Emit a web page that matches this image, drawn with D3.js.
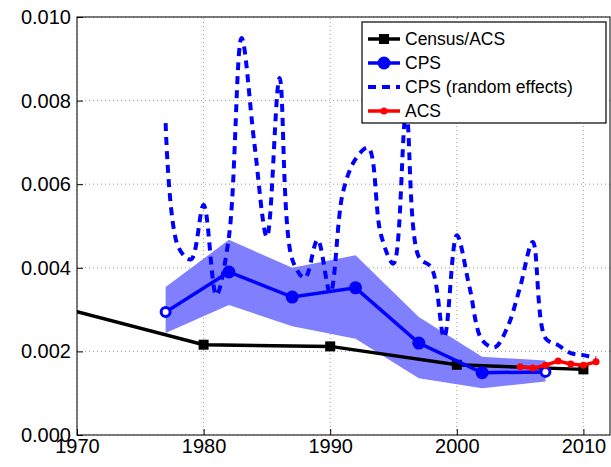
<!DOCTYPE html>
<html><head><meta charset="utf-8">
<script src="https://cdn.jsdelivr.net/npm/d3@7"></script>
<style>body{margin:0;background:#fff}svg{font-family:"Liberation Sans",Arial,sans-serif}</style>
</head><body><svg id="c" width="611" height="467"></svg>
<script>
const censusYears = [1960, 1970, 1980, 1990, 2000, 2010];
const censusVals = [0.00368, 0.00295, 0.00216, 0.00212, 0.00168, 0.00157];
const cpsYears = [1977, 1982, 1987, 1992, 1997, 2002, 2007];
const cpsVals = [0.00294, 0.0039, 0.0033, 0.00352, 0.0022, 0.00149, 0.00151];
const cpsLow = [0.00244, 0.00311, 0.0026, 0.0023, 0.00136, 0.00112, 0.00128];
const cpsHigh = [0.00354, 0.00467, 0.0040, 0.0043, 0.00282, 0.00187, 0.00178];
const reYears = d3.range(1977, 2012);
const reVals = [0.00746, 0.0045, 0.0042, 0.0055, 0.00335, 0.00474, 0.0095, 0.0070, 0.00474, 0.00854,
  0.0042, 0.00376, 0.00467, 0.0034, 0.0058, 0.0066, 0.00687, 0.0048, 0.0041, 0.0077,
  0.00426, 0.0040, 0.00234, 0.00478, 0.00354, 0.00227, 0.0021, 0.00258, 0.00354, 0.00462,
  0.00232, 0.00215, 0.00196, 0.00191, 0.00184];
const acsYears = [2005, 2006, 2007, 2008, 2009, 2010, 2011];
const acsVals = [0.00163, 0.0016, 0.00167, 0.00177, 0.0017, 0.00167, 0.00175];
const xTicks = [1970, 1980, 1990, 2000, 2010];
const yTicks = [0, 0.002, 0.004, 0.006, 0.008, 0.010];

const m = {left: 77, right: 1, top: 17, bottom: 32};
const W = 611, H = 467;
const svg = d3.select('#c');
const x = d3.scaleLinear().domain([1970, 2012.1]).range([m.left, W - m.right]);
const y = d3.scaleLinear().domain([0, 0.010]).range([H - m.bottom, m.top]);

svg.append('clipPath').attr('id', 'clip').append('rect')
  .attr('x', m.left).attr('y', m.top).attr('width', W - m.right - m.left).attr('height', H - m.bottom - m.top);

// grid
const grid = svg.append('g').attr('stroke', '#999').attr('stroke-dasharray', '1,3').attr('stroke-width', 1);
xTicks.forEach(t => grid.append('line').attr('x1', x(t)).attr('x2', x(t)).attr('y1', y(0)).attr('y2', y(0.01)));
yTicks.forEach(t => grid.append('line').attr('y1', y(t)).attr('y2', y(t)).attr('x1', x.range()[0]).attr('x2', x.range()[1]));

const g = svg.append('g').attr('clip-path', 'url(#clip)');

// band
g.append('path')
  .datum(cpsYears.map((yr, i) => ({yr, lo: cpsLow[i], hi: cpsHigh[i]})))
  .attr('fill', '#8080ff')
  .attr('d', d3.area().x(d => x(d.yr)).y0(d => y(d.lo)).y1(d => y(d.hi)));

// random effects dashed
g.append('path')
  .datum(reYears.map((yr, i) => [yr, reVals[i]]))
  .attr('fill', 'none').attr('stroke', '#0000ff').attr('stroke-width', 4).attr('stroke-dasharray', '8,6')
  .attr('d', d3.line().curve(d3.curveCatmullRom).x(d => x(d[0])).y(d => y(d[1])));

// census
g.append('path')
  .datum(censusYears.map((yr, i) => [yr, censusVals[i]]))
  .attr('fill', 'none').attr('stroke', '#000').attr('stroke-width', 3.5)
  .attr('d', d3.line().x(d => x(d[0])).y(d => y(d[1])));
g.selectAll('.sq').data(censusYears.slice(2).map((yr, i) => [yr, censusVals[i + 2]])).enter()
  .append('rect').attr('x', d => x(d[0]) - 5).attr('y', d => y(d[1]) - 5).attr('width', 10).attr('height', 10).attr('fill', '#000');

// CPS
g.append('path')
  .datum(cpsYears.map((yr, i) => [yr, cpsVals[i]]))
  .attr('fill', 'none').attr('stroke', '#0000ff').attr('stroke-width', 3.5)
  .attr('d', d3.line().x(d => x(d[0])).y(d => y(d[1])));
g.selectAll('.ci').data(cpsYears.map((yr, i) => [yr, cpsVals[i], i])).enter()
  .append('circle').attr('cx', d => x(d[0])).attr('cy', d => y(d[1])).attr('r', d => (d[2] === 0 || d[2] === cpsYears.length - 1) ? 4.5 : 6.5)
  .attr('fill', d => (d[2] === 0 || d[2] === cpsYears.length - 1) ? '#fff' : '#0000ff')
  .attr('stroke', '#0000ff').attr('stroke-width', d => (d[2] === 0 || d[2] === cpsYears.length - 1) ? 3 : 0);

// ACS
g.append('path')
  .datum(acsYears.map((yr, i) => [yr, acsVals[i]]))
  .attr('fill', 'none').attr('stroke', '#ff0000').attr('stroke-width', 3.5)
  .attr('d', d3.line().x(d => x(d[0])).y(d => y(d[1])));
g.selectAll('.ac').data(acsYears.map((yr, i) => [yr, acsVals[i]])).enter()
  .append('circle').attr('cx', d => x(d[0])).attr('cy', d => y(d[1])).attr('r', 3.5).attr('fill', '#ff0000');

// frame & axes
svg.append('rect').attr('x', m.left).attr('y', m.top).attr('width', W - m.right - m.left).attr('height', H - m.bottom - m.top)
  .attr('fill', 'none').attr('stroke', '#000').attr('stroke-width', 1);
const xa = svg.append('g').attr('transform', `translate(0,${y(0)})`)
  .call(d3.axisBottom(x).tickValues(xTicks).tickFormat(d3.format('d')).tickSize(-6).tickPadding(2));
const ya = svg.append('g').attr('transform', `translate(${m.left},0)`)
  .call(d3.axisLeft(y).tickValues(yTicks).tickFormat(d3.format('.3f')).tickSize(-6).tickPadding(6));
[xa, ya].forEach(a => {
  a.select('.domain').remove();
  a.selectAll('text').attr('font-size', 20).attr('fill', '#000').attr('font-family', '"Liberation Sans",Arial,sans-serif');
});
xa.selectAll('text').attr('dy', '0.8em');

// legend
const legendNames = ['Census/ACS', 'CPS', 'CPS (random effects)', 'ACS'];
const lg = svg.append('g');
lg.append('rect').attr('x', 362).attr('y', 22).attr('width', 244).attr('height', 101).attr('fill', '#fff').attr('stroke', '#000').attr('stroke-width', 1.2);
legendNames.forEach((name, i) => {
  const ly = 39 + i * 24, lx0 = 368, lx1 = 400;
  const row = lg.append('g');
  if (i === 0) {
    row.append('line').attr('x1', lx0).attr('x2', lx1).attr('y1', ly).attr('y2', ly).attr('stroke', '#000').attr('stroke-width', 3.5);
    row.append('rect').attr('x', 379).attr('y', ly - 5).attr('width', 10).attr('height', 10);
  } else if (i === 1) {
    row.append('line').attr('x1', lx0).attr('x2', lx1).attr('y1', ly).attr('y2', ly).attr('stroke', '#0000ff').attr('stroke-width', 3.5);
    row.append('circle').attr('cx', 384).attr('cy', ly).attr('r', 6.5).attr('fill', '#0000ff');
  } else if (i === 2) {
    row.append('line').attr('x1', lx0).attr('x2', lx1).attr('y1', ly).attr('y2', ly).attr('stroke', '#0000ff').attr('stroke-width', 4).attr('stroke-dasharray', '8,6');
  } else {
    row.append('line').attr('x1', lx0).attr('x2', lx1).attr('y1', ly).attr('y2', ly).attr('stroke', '#ff0000').attr('stroke-width', 3.5);
    row.append('circle').attr('cx', 384).attr('cy', ly).attr('r', 3.5).attr('fill', '#ff0000');
  }
  row.append('text').attr('x', 405).attr('y', ly).attr('dy', '0.35em').attr('font-size', 17.5).text(name);
});
</script></body></html>
